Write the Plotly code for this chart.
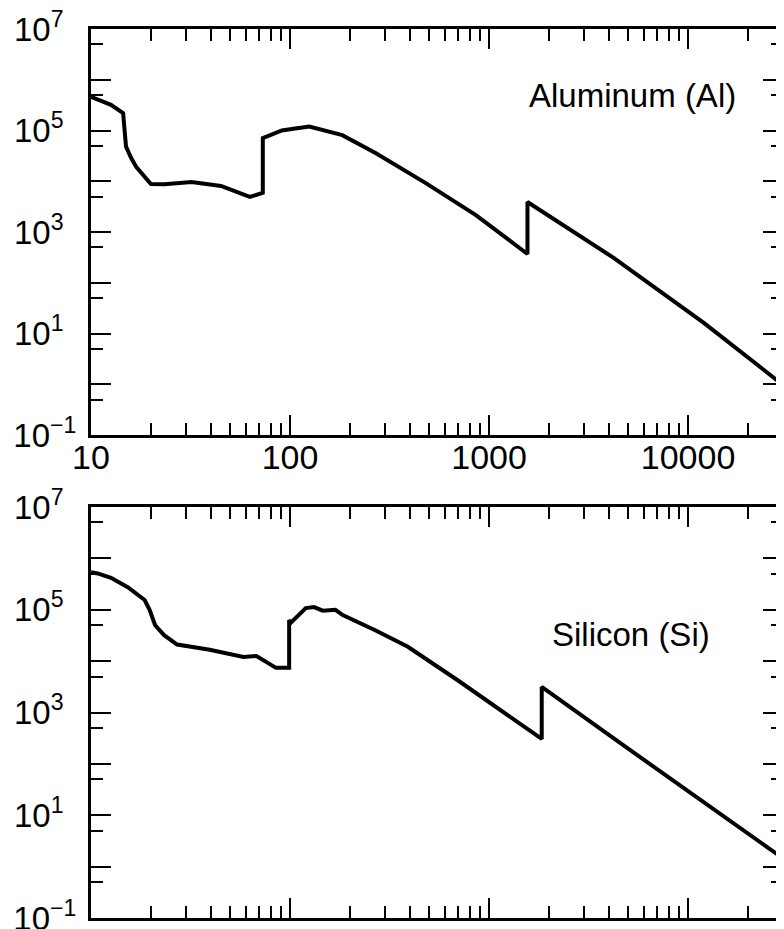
import numpy as np
import plotly.graph_objects as go

# ---- data (photon energy in eV, absorption coefficient) ----
al_energy = [10, 12.6, 14.5, 15.0, 15.9, 16.9, 20, 23.4, 32, 45, 62.8, 73, 73, 91, 102, 125,
             183, 269, 481, 859, 1560, 1560, 4230, 12050, 30000]
al_absorption = [4.6e5, 3.2e5, 2.2e5, 4.8e4, 2.9e4, 1.9e4, 8.8e3, 8.7e3, 9.7e3, 8.1e3, 4.9e3,
                 5.9e3, 7.1e4, 1.0e5, 1.07e5, 1.2e5, 8.1e4, 3.6e4, 9.2e3, 2.16e3, 369, 3.9e3,
                 309, 16, 0.97]

si_energy = [10, 10.8, 12.6, 15.3, 18.6, 19.7, 21.0, 23.3, 27.1, 39.5, 58.3, 67.8, 85, 99, 99,
             101, 120, 132, 146, 169, 184, 268, 391, 693, 1840, 1840, 4860, 30000]
si_absorption = [5.4e5, 5.1e5, 4.2e5, 2.75e5, 1.55e5, 1.0e5, 5.0e4, 3.2e4, 2.1e4, 1.66e4,
                 1.2e4, 1.26e4, 7.4e3, 7.4e3, 6.3e4, 5.6e4, 1.08e5, 1.13e5, 9.6e4, 1.0e5,
                 7.9e4, 4.0e4, 1.9e4, 4.3e3, 306, 3.15e3, 214, 1.45]

x_tick_vals = [10, 100, 1000, 10000]
x_tick_text = ["10", "100", "1000", "10000"]
x_minor_vals = [m * 10 ** d for d in range(1, 5) for m in range(2, 10) if m * 10 ** d < 30000]

y_tick_vals = [10.0 ** e for e in range(-1, 8)]
y_tick_text = ["10<sup>\u22121</sup>", "", "10<sup>1\u2007</sup>", "", "10<sup>3\u2007</sup>", "",
               "10<sup>5\u2007</sup>", "", "10<sup>7\u2007</sup>"]
y_minor_vals = [5 * 10.0 ** e for e in range(-2, 7)]

panel_labels = ["Aluminum (Al)", "Silicon (Si)"]

FONT = "Liberation Sans, Arial, Helvetica, sans-serif"

fig = go.Figure()
fig.add_trace(go.Scatter(x=al_energy, y=al_absorption, mode="lines",
                         line=dict(color="black", width=4), xaxis="x", yaxis="y",
                         showlegend=False))
fig.add_trace(go.Scatter(x=si_energy, y=si_absorption, mode="lines",
                         line=dict(color="black", width=4), xaxis="x2", yaxis="y2",
                         showlegend=False))


def xaxis(anchor, labels):
    return dict(type="log", range=[1, np.log10(30000)], domain=[0, 1], anchor=anchor,
                automargin=False, ticklabeloverflow="allow",
                tickvals=x_tick_vals, ticktext=x_tick_text, showticklabels=labels,
                ticks="inside", ticklen=20, tickwidth=2, tickcolor="black",
                showline=True, linewidth=3, linecolor="black", mirror="allticks",
                showgrid=False, zeroline=False, ticklabelstandoff=-10,
                tickfont=dict(size=34, color="black", family=FONT),
                minor=dict(tickvals=x_minor_vals, ticks="inside", ticklen=12,
                           tickwidth=2, tickcolor="black", showgrid=False))


def yaxis(anchor, domain):
    return dict(type="log", range=[-1, 7], domain=domain, anchor=anchor,
                automargin=False, ticklabeloverflow="allow",
                tickvals=y_tick_vals, ticktext=y_tick_text,
                ticks="inside", ticklen=20, tickwidth=2, tickcolor="black",
                showline=True, linewidth=3, linecolor="black", mirror="allticks",
                showgrid=False, zeroline=False, ticklabelstandoff=5,
                tickfont=dict(size=33, color="black", family=FONT),
                minor=dict(tickvals=y_minor_vals, ticks="inside", ticklen=12,
                           tickwidth=2, tickcolor="black", showgrid=False))


# the page body adds an 8 px margin, so the figure is sized and offset to compensate
fig.update_layout(
    width=776, height=921,
    margin=dict(l=83, r=1, t=21, b=11),
    paper_bgcolor="white", plot_bgcolor="white",
    font=dict(family=FONT, color="black"),
    xaxis=xaxis("y", True),
    yaxis=yaxis("x", [0.5433, 1]),
    xaxis2=xaxis("y2", False),
    yaxis2=yaxis("x2", [0, 0.4623]),
    annotations=[
        dict(text=panel_labels[0], xref="x domain", yref="y domain", x=0.935, y=0.835,
             xanchor="right", yanchor="middle", showarrow=False,
             font=dict(size=33, color="black", family=FONT)),
        dict(text=panel_labels[1], xref="x2 domain", yref="y2 domain", x=0.897, y=0.689,
             xanchor="right", yanchor="middle", showarrow=False,
             font=dict(size=33, color="black", family=FONT)),
    ],
)

fig.write_html("out.html")
